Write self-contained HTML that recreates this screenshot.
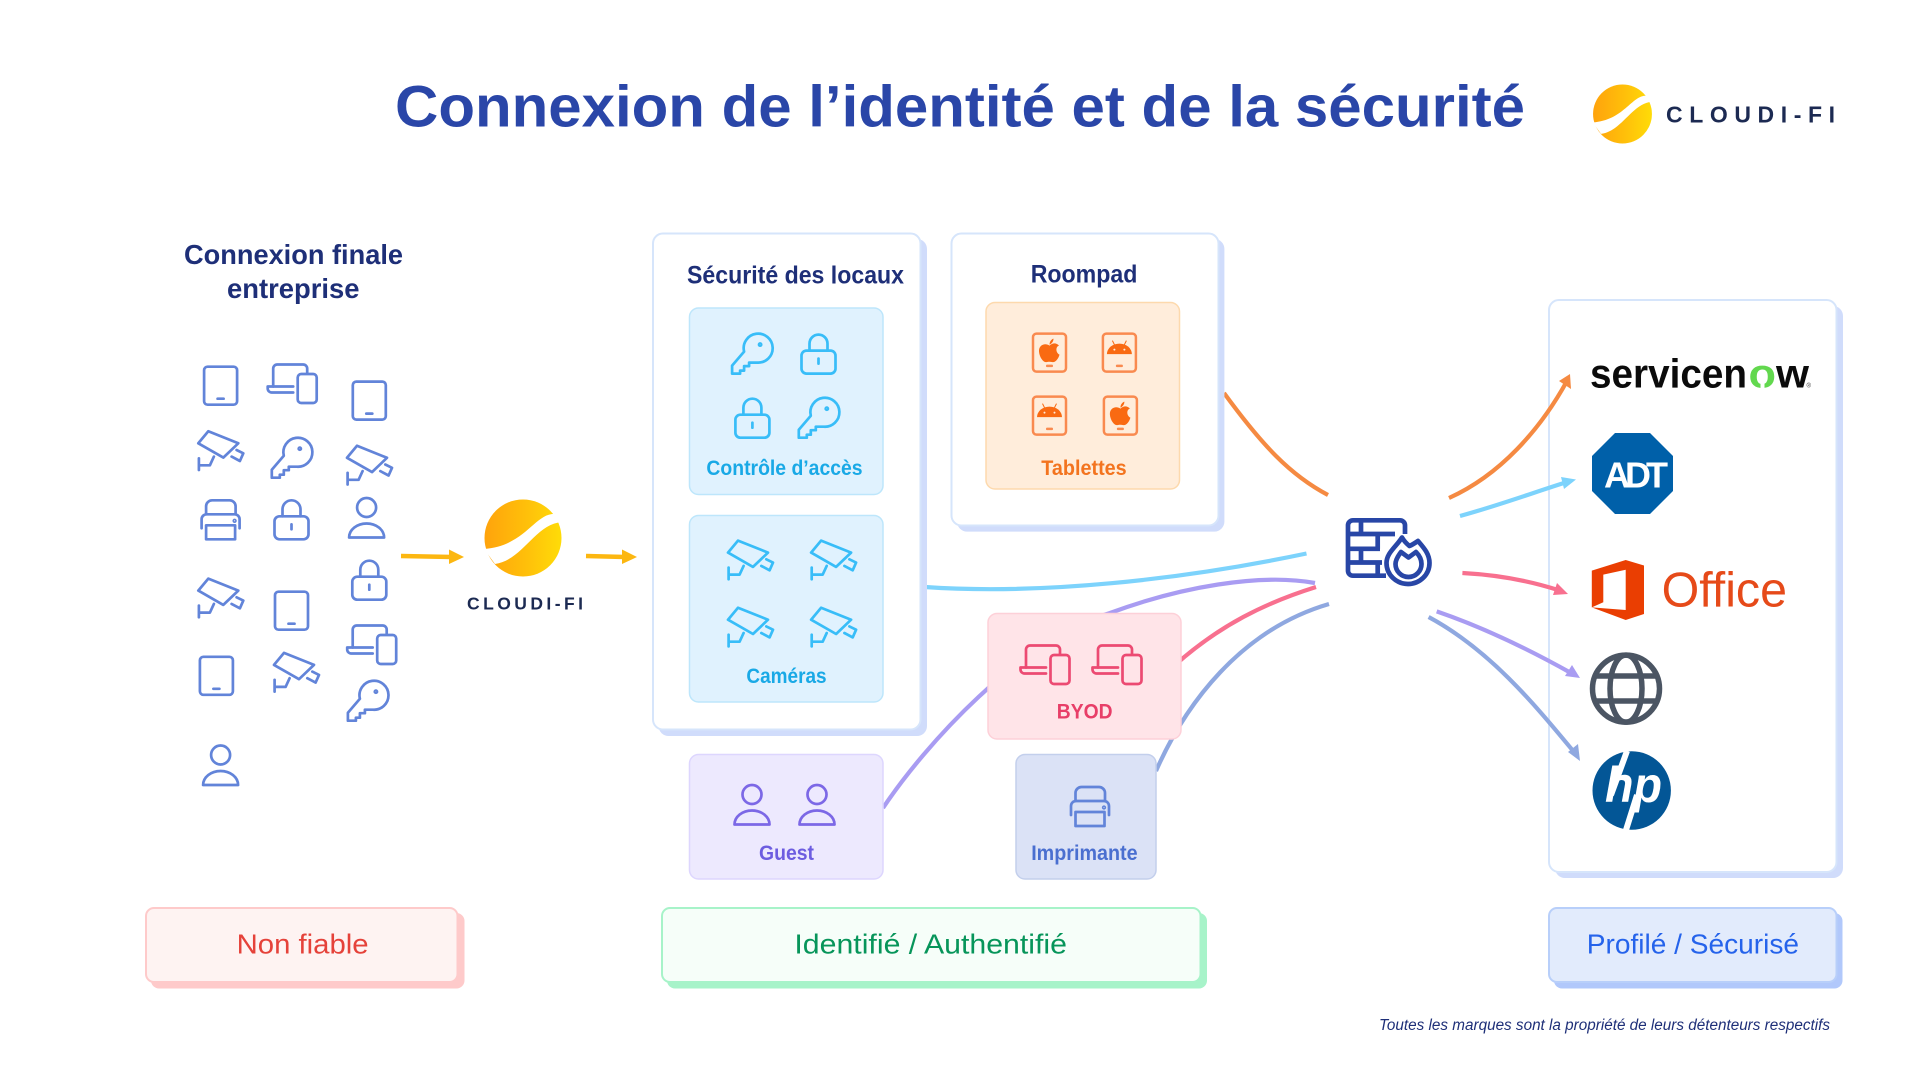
<!DOCTYPE html>
<html lang="fr">
<head>
<meta charset="utf-8">
<title>Connexion de l’identité et de la sécurité</title>
<style>
html,body{margin:0;padding:0;background:#fff;width:1920px;height:1080px;overflow:hidden}
svg{display:block}
text{font-family:"Liberation Sans",sans-serif}
.ic{fill:none;stroke-width:2.7;stroke-linecap:round;stroke-linejoin:round}
.cn{fill:none;stroke-width:4.2;stroke-linecap:butt}
</style>
</head>
<body>
<svg width="1920" height="1080" viewBox="0 0 1920 1080" xmlns="http://www.w3.org/2000/svg">
<defs>
  <linearGradient id="gold" x1="0" y1="0" x2="1" y2="0">
    <stop offset="0" stop-color="#ffa30c"/><stop offset="0.55" stop-color="#ffc00a"/><stop offset="1" stop-color="#ffdc08"/>
  </linearGradient>
  <g id="tablet"><rect x="-16.5" y="-19" width="33" height="38" rx="3.5"/><path d="M-3 13H3"/></g>
  <g id="device">
    <path d="M-19 3V-15a4 4 0 0 1 4-4H11a4 4 0 0 1 4 4v4"/>
    <path d="M1 3H-24.5v2a4 4 0 0 0 4 4H1"/>
    <rect x="5.5" y="-9.5" width="19" height="29" rx="3.5"/>
  </g>
  <g id="camera">
    <path d="M-12.3-21L17.7-9L2.7 5.3L-22.3-9Z"/>
    <path d="M11 4.3L19.3 8.7L22.7 1L16-2.3"/>
    <path d="M-6.7 4.3L-10.7 13H-21.7M-21.7 6V17.7"/>
  </g>
  <g id="key">
    <path d="M-8-2A14.5 14.5 0 1 1 5 9H-3V12.5H-8V17H-12V20H-20V12Z"/>
    <circle cx="8" cy="-9" r="1.1"/>
  </g>
  <g id="lock">
    <rect x="-17" y="-3" width="34" height="23" rx="5"/>
    <path d="M-9-3V-10a9 9 0 0 1 18 0V-3M0 5V10"/>
  </g>
  <g id="printer">
    <path d="M-14.5-5V-13a6 6 0 0 1 6-6H9a6 6 0 0 1 6 6V-5"/>
    <path d="M-19 9V0a5 5 0 0 1 5-5H14a5 5 0 0 1 5 5V9"/>
    <rect x="-14.5" y="6" width="29" height="14"/>
    <circle cx="14" cy="1.5" r="0.8"/>
  </g>
  <g id="user">
    <circle cx="0" cy="-10" r="9.5"/>
    <path d="M-17.5 20A17.5 14 0 0 1 17.5 20Z"/>
  </g>
  <g id="apple">
    <rect x="-16.5" y="-19" width="33" height="38" rx="3.5" fill="none" stroke="#f98a4f" stroke-width="2.5"/>
    <path d="M0-7C-4-10-11-8-10.5-1C-10 5-6 10-3 9.5C-1.5 9 1 9 3 9.5C6 10 9 6 10 2C6 0 6-6 9.5-7C7-10 3-10 0-7Z" fill="#f96a12"/>
    <path d="M0-8C0-11 2-13.5 4-14C4-11 2-9 0-8Z" fill="#f96a12"/>
    <rect x="-3.5" y="12" width="7" height="2.5" rx="1" fill="#f98a4f"/>
  </g>
  <g id="android">
    <rect x="-16.5" y="-19" width="33" height="38" rx="3.5" fill="none" stroke="#f98a4f" stroke-width="2.5"/>
    <path d="M-12.5 1.5A12.5 10.5 0 0 1 12.5 1.5Z" fill="#f96a12"/>
    <path d="M-5-8L-7-12M5-8L7-12" stroke="#f96a12" stroke-width="1"/>
    <circle cx="-5" cy="-3" r="1" fill="#ffe9d6"/><circle cx="5" cy="-3" r="1" fill="#ffe9d6"/>
    <rect x="-3.5" y="12" width="7" height="2.5" rx="1" fill="#f98a4f"/>
  </g>
  <g id="sphere">
    <circle cx="0" cy="0" r="38.5" fill="url(#gold)"/>
    <path d="M33-24C12-26 3 8-39 11L-28 26C0 22 12-14 39-16Z" fill="#fff"/>
  </g>
</defs>

<rect width="1920" height="1080" fill="#fff"/>

<!-- Title -->
<text x="395" y="126.5" font-size="58" font-weight="700" fill="#2a46a8" textLength="1130" lengthAdjust="spacingAndGlyphs">Connexion de l’identité et de la sécurité</text>
<use href="#sphere" transform="translate(1622.5 114) scale(0.765)"/>
<text x="1666" y="122.5" font-size="23" font-weight="700" fill="#1c2a52" textLength="169" lengthAdjust="spacing">CLOUDI-FI</text>

<!-- Left heading -->
<text x="184" y="264" font-size="28" font-weight="700" fill="#1e2f78" textLength="219" lengthAdjust="spacingAndGlyphs">Connexion finale</text>
<text x="227" y="298" font-size="28" font-weight="700" fill="#1e2f78" textLength="132.5" lengthAdjust="spacingAndGlyphs">entreprise</text>

<!-- Left icon cloud -->
<g class="ic" stroke="#6284d9">
  <use href="#tablet" x="220.6" y="385.7"/>
  <use href="#tablet" x="369.3" y="400.6"/>
  <use href="#tablet" x="291.5" y="610.7"/>
  <use href="#tablet" x="216.4" y="675.8"/>
  <use href="#device" x="292.2" y="383.5"/>
  <use href="#device" x="371.7" y="644.5"/>
  <use href="#camera" x="220.6" y="452.3"/>
  <use href="#camera" x="369.3" y="466.8"/>
  <use href="#camera" x="220.6" y="599.6"/>
  <use href="#camera" x="296.3" y="673.9"/>
  <use href="#key" x="291.8" y="457.7"/>
  <use href="#key" x="367.9" y="700.7"/>
  <use href="#printer" x="220.6" y="519.3"/>
  <use href="#lock" x="291.5" y="519.3"/>
  <use href="#lock" x="369.3" y="579.7"/>
  <use href="#user" x="366.6" y="517.5"/>
  <use href="#user" x="220.6" y="765"/>
</g>

<!-- Yellow arrows -->
<path d="M401 556L452 557" stroke="#fcb711" stroke-width="4.5" fill="none"/>
<path d="M449 549.5L464 557L449 564Z" fill="#fcb711"/>
<path d="M586 556L625 557" stroke="#fcb711" stroke-width="4.5" fill="none"/>
<path d="M622 549.5L637 557L622 564Z" fill="#fcb711"/>

<!-- Center logo -->
<use href="#sphere" x="523" y="538"/>
<text x="467" y="609.5" font-size="17.5" font-weight="700" fill="#1c2a52" textLength="116" lengthAdjust="spacing">CLOUDI-FI</text>

<!-- Left connectors (beneath boxes) -->
<path class="cn" stroke="#f58a42" d="M1224 393C1262 445 1290 475 1328 495"/>
<path class="cn" stroke="#7dd3fc" d="M925 587C1040 595 1180 580 1306.5 553.5"/>
<path class="cn" stroke="#a99cf2" d="M883 808C925 745 1020 640 1110 613C1180 587 1260 573 1315 583"/>
<path class="cn" stroke="#f8708f" d="M1175 665C1220 625 1265 603 1316 587"/>
<path class="cn" stroke="#8fa8e0" d="M1156 771C1185 705 1240 630 1329 604"/>

<!-- Sécurité des locaux -->
<rect x="658.6" y="239" width="268.4" height="497" rx="10" fill="#d0dcfb"/>
<rect x="653" y="233.5" width="267.5" height="496" rx="10" fill="#fff" stroke="#d6e5fb" stroke-width="2"/>
<text x="687" y="283.5" font-size="25" font-weight="700" fill="#1e2f78" textLength="217" lengthAdjust="spacingAndGlyphs">Sécurité des locaux</text>

<rect x="689.5" y="308" width="193.5" height="186.5" rx="9" fill="#e0f2fe" stroke="#bde6fb" stroke-width="1.5"/>
<g class="ic" stroke="#38bdf8">
  <use href="#key" x="752.1" y="353.6"/>
  <use href="#lock" x="818.5" y="353.6"/>
  <use href="#lock" x="752.4" y="417.7"/>
  <use href="#key" x="818.8" y="417.7"/>
</g>
<text x="706.4" y="475" font-size="21" font-weight="700" fill="#19a9e6" textLength="156.2" lengthAdjust="spacingAndGlyphs">Contrôle d’accès</text>

<rect x="689.5" y="515.5" width="193.5" height="186.5" rx="9" fill="#e0f2fe" stroke="#bde6fb" stroke-width="1.5"/>
<g class="ic" stroke="#38bdf8">
  <use href="#camera" x="750.3" y="561.6"/>
  <use href="#camera" x="833.4" y="561.6"/>
  <use href="#camera" x="750.3" y="628.7"/>
  <use href="#camera" x="833.4" y="628.7"/>
</g>
<text x="746.4" y="683" font-size="21" font-weight="700" fill="#19a9e6" textLength="80.2" lengthAdjust="spacingAndGlyphs">Caméras</text>

<!-- Roompad -->
<rect x="957" y="239" width="267.4" height="292.6" rx="10" fill="#d0dcfb"/>
<rect x="951.5" y="233.5" width="267" height="292" rx="10" fill="#fff" stroke="#d6e5fb" stroke-width="2"/>
<text x="1030.7" y="282.5" font-size="25" font-weight="700" fill="#1e2f78" textLength="106.7" lengthAdjust="spacingAndGlyphs">Roompad</text>
<rect x="986" y="302.5" width="193.5" height="186.5" rx="9" fill="#ffeddb" stroke="#fdd9ad" stroke-width="1.5"/>
<use href="#apple" x="1049.5" y="352.6"/>
<use href="#android" x="1119.4" y="352.6"/>
<use href="#android" x="1049.5" y="415.6"/>
<use href="#apple" x="1120.4" y="415.6"/>
<text x="1041.3" y="475" font-size="21" font-weight="700" fill="#f3741f" textLength="85.4" lengthAdjust="spacingAndGlyphs">Tablettes</text>

<!-- BYOD -->
<rect x="988" y="613.5" width="193" height="125.5" rx="9" fill="#ffe4e8" stroke="#fdd0d8" stroke-width="1.5"/>
<g class="ic" stroke="#ec4a72">
  <use href="#device" x="1045" y="664.5"/>
  <use href="#device" x="1117" y="664.5"/>
</g>
<text x="1056.8" y="718.5" font-size="21" font-weight="700" fill="#e83e68" textLength="55.7" lengthAdjust="spacingAndGlyphs">BYOD</text>

<!-- Guest -->
<rect x="689.5" y="754.5" width="193.5" height="124.5" rx="9" fill="#ede9fe" stroke="#ddd6fe" stroke-width="1.5"/>
<g class="ic" stroke="#7c68e6">
  <use href="#user" x="752" y="804.5"/>
  <use href="#user" x="817" y="804.5"/>
</g>
<text x="759" y="860" font-size="21" font-weight="700" fill="#6d5de0" textLength="55" lengthAdjust="spacingAndGlyphs">Guest</text>

<!-- Imprimante -->
<rect x="1016" y="754.5" width="140" height="124.5" rx="9" fill="#dbe2f6" stroke="#c3cfec" stroke-width="1.5"/>
<g class="ic" stroke="#6284d9"><use href="#printer" x="1090" y="806"/></g>
<text x="1031.2" y="860" font-size="21" font-weight="700" fill="#4a6fd0" textLength="106.4" lengthAdjust="spacingAndGlyphs">Imprimante</text>

<!-- Right box -->
<rect x="1555" y="306" width="288" height="572" rx="10" fill="#d0dcfb"/>
<rect x="1549" y="300" width="287.5" height="572" rx="10" fill="#fff" stroke="#d6e5fb" stroke-width="2"/>

<!-- ServiceNow -->
<text x="1590" y="387.3" font-size="41" font-weight="700" fill="#0b0b0b" textLength="157" lengthAdjust="spacingAndGlyphs">servicen</text>
<text x="1748.5" y="387.3" font-size="41" font-weight="700" fill="#62d84e" textLength="27.5" lengthAdjust="spacingAndGlyphs">o</text>
<rect x="1760.5" y="383" width="4" height="6" fill="#fff"/>
<text x="1776" y="387.3" font-size="41" font-weight="700" fill="#0b0b0b" textLength="33" lengthAdjust="spacingAndGlyphs">w</text>
<text x="1806.5" y="387.5" font-size="6" fill="#333">®</text>

<!-- ADT -->
<path d="M1615 433H1650L1673 456V491L1650 514H1615L1592 491V456Z" fill="#0060a9"/>
<text x="1604" y="487.6" font-size="36" font-weight="700" fill="#fff" letter-spacing="-5">ADT</text>

<!-- Office -->
<path d="M1591.8 570.6L1625.7 560L1644 565.5V614L1625.7 620L1591.8 607.4Z" fill="#ea3e02"/>
<path d="M1603.3 574.6L1625.7 569.8V610L1591.8 607.4L1603.3 602.3Z" fill="#fff"/>
<text x="1661.6" y="606.6" font-size="49" fill="#e64a19" textLength="125.4" lengthAdjust="spacingAndGlyphs">Office</text>

<!-- Globe -->
<g fill="none" stroke="#4b5563" stroke-width="5.5">
  <circle cx="1626" cy="688.6" r="33.5"/>
  <ellipse cx="1626" cy="688.6" rx="16" ry="33.5"/>
  <path d="M1595 676H1657M1595 701H1657"/>
</g>

<!-- HP -->
<circle cx="1631.7" cy="790.5" r="39.2" fill="#035696"/>
<text x="1605" y="802" font-size="50" font-weight="700" font-style="italic" fill="#fff" textLength="57" lengthAdjust="spacingAndGlyphs">hp</text>
<path d="M1627 751L1611 795M1637 795L1626 830" stroke="#fff" stroke-width="6" fill="none"/>

<!-- Firewall -->
<g fill="none" stroke="#2846a6" stroke-width="4.7" stroke-linejoin="round">
  <path d="M1386 575.7H1353a5 5 0 0 1-5-5V525.3a5 5 0 0 1 5-5H1400a5 5 0 0 1 5 5V534"/>
  <path d="M1348 534H1395M1348 548.8H1380M1348 562.5H1382"/>
  <path d="M1361 520.3V534M1377.7 534V548.8M1361 548.8V562.5M1377.7 562.5V575.7"/>
  <path d="M1402 537.5C1404 541 1407 544 1409.5 546C1412 545 1415 543 1418 541C1424 548 1429.5 554 1429.5 563A21.5 21 0 0 1 1386.5 563C1386.5 553 1396 547 1402 537.5Z" fill="#fff"/>
  <path d="M1401 552L1408.5 557.5L1416 552C1420 556 1421.5 560 1421.5 564A13 13 0 0 1 1395.5 564C1395.5 560 1398 556 1401 552Z"/>
</g>

<!-- Right connectors with arrowheads -->
<g fill="none" stroke-width="4.2">
  <path stroke="#f58a42" d="M1449 498C1500 475 1540 430 1567 381"/>
  <path stroke="#7dd3fc" d="M1460 516C1500 505 1535 492 1567 482"/>
  <path stroke="#f8708f" d="M1462.4 573C1500 575 1530 581 1558 590"/>
  <path stroke="#a99cf2" d="M1436.7 611.4C1485 628 1530 650 1571 673"/>
  <path stroke="#8fa8e0" d="M1428.6 617C1490 650 1535 705 1574 752"/>
</g>
<path d="M1570 374L1571 389L1559 381Z" fill="#f58a42"/>
<path d="M1576 479.5L1564 489L1561 477Z" fill="#7dd3fc"/>
<path d="M1568 594L1553 595L1557 583Z" fill="#f8708f"/>
<path d="M1580 678L1565 676L1572 665Z" fill="#a99cf2"/>
<path d="M1580 761L1568 752L1578 744Z" fill="#8fa8e0"/>

<!-- Legend bars -->
<rect x="151" y="913" width="313.5" height="75.5" rx="8" fill="#fecaca"/>
<rect x="146" y="908" width="311.5" height="74" rx="8" fill="#fef3f2" stroke="#fecaca" stroke-width="2"/>
<text x="236.6" y="953.3" font-size="28" fill="#e5423a" textLength="132" lengthAdjust="spacingAndGlyphs">Non fiable</text>

<rect x="667" y="913" width="540" height="75.5" rx="8" fill="#a7f3c9"/>
<rect x="662" y="908" width="538.5" height="74" rx="8" fill="#f6fef9" stroke="#a7f3c9" stroke-width="2"/>
<text x="794.4" y="953.3" font-size="28" fill="#07955a" textLength="272.6" lengthAdjust="spacingAndGlyphs">Identifié / Authentifié</text>

<rect x="1554" y="913" width="288.5" height="75.5" rx="8" fill="#b1c8fb"/>
<rect x="1549" y="908" width="287.5" height="74" rx="8" fill="#e2ebfc" stroke="#b8cffa" stroke-width="2"/>
<text x="1586.8" y="953.3" font-size="28" fill="#2563eb" textLength="212.2" lengthAdjust="spacingAndGlyphs">Profilé / Sécurisé</text>

<text x="1379" y="1030" font-size="15.5" font-style="italic" fill="#1e2f78" textLength="451" lengthAdjust="spacingAndGlyphs">Toutes les marques sont la propriété de leurs détenteurs respectifs</text>
</svg>
</body>
</html>
